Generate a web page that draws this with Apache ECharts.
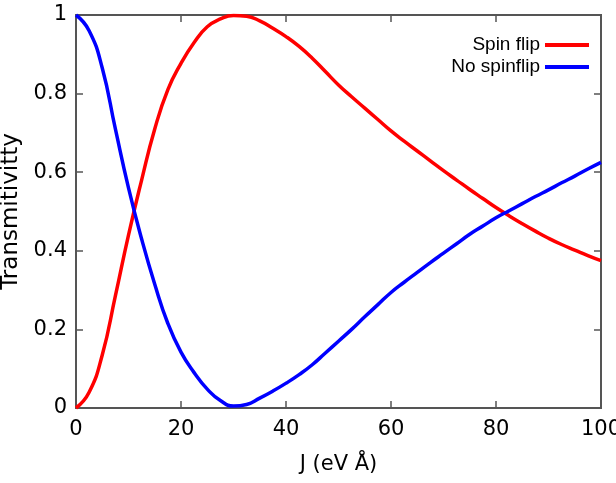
<!DOCTYPE html>
<html>
<head>
<meta charset="utf-8">
<script src="https://cdn.jsdelivr.net/npm/echarts@6/dist/echarts.min.js"></script>
<style>html,body{margin:0;padding:0;background:#fff}#c{width:616px;height:483px}</style>
</head>
<body>
<div id="c"></div>
<script>
const J = [0, 2.5, 5, 7.5, 10, 12.5, 15, 17.5, 20, 22.5, 25, 27.5, 30, 32.5, 35, 37.5, 40, 42.5, 45, 47.5, 50,
           52.5, 55, 57.5, 60, 62.5, 65, 67.5, 70, 72.5, 75, 77.5, 80, 82.5, 85, 87.5, 90, 92.5, 95, 97.5, 100];
const spinFlip = [0, 0.04, 0.135, 0.285, 0.44, 0.58, 0.71, 0.81, 0.877, 0.93, 0.97, 0.99, 0.999, 0.997, 0.985, 0.966, 0.945, 0.92, 0.89, 0.856, 0.822,
                  0.792, 0.763, 0.734, 0.705, 0.679, 0.654, 0.629, 0.604, 0.58, 0.556, 0.533, 0.51, 0.489, 0.469, 0.45, 0.432, 0.416, 0.402, 0.388, 0.375];
const noSpinFlip = [1, 0.96, 0.865, 0.71, 0.56, 0.43, 0.315, 0.215, 0.142, 0.09, 0.048, 0.019, 0.005, 0.009, 0.025, 0.043, 0.063, 0.085, 0.11, 0.14, 0.17,
                    0.2, 0.232, 0.263, 0.294, 0.32, 0.345, 0.37, 0.394, 0.418, 0.442, 0.463, 0.484, 0.502, 0.52, 0.538, 0.555, 0.573, 0.59, 0.608, 0.625];
const xTicks = [0, 20, 40, 60, 80, 100];
const yTicks = [0, 0.2, 0.4, 0.6, 0.8, 1];
const seriesNames = ['Spin flip', 'No spinflip'];

const frame = '#555';
const font = 'DejaVu Sans';
function xAx(pos, labels) {
  return {
    type: 'value', position: pos, min: xTicks[0], max: xTicks[xTicks.length - 1], interval: xTicks[1] - xTicks[0],
    axisLine: { show: true, onZero: false, lineStyle: { color: frame, width: 2 } },
    axisTick: { show: true, inside: true, length: 7, lineStyle: { color: frame, width: 1.5 } },
    axisLabel: { show: labels, color: '#000', fontSize: 21, fontFamily: font, margin: 11 },
    splitLine: { show: false },
    name: labels ? 'J (eV Å)' : '', nameLocation: 'middle', nameGap: 46,
    nameTextStyle: { color: '#000', fontSize: 21, fontFamily: font }
  };
}
function yAx(pos, labels) {
  return {
    type: 'value', position: pos, min: yTicks[0], max: yTicks[yTicks.length - 1], interval: yTicks[1] - yTicks[0],
    axisLine: { show: true, onZero: false, lineStyle: { color: frame, width: 2 } },
    axisTick: { show: true, inside: true, length: 7, lineStyle: { color: frame, width: 1.5 } },
    axisLabel: { show: labels, color: '#000', fontSize: 21, fontFamily: font, margin: 9 },
    splitLine: { show: false },
    name: labels ? 'Transmitivitty' : '', nameLocation: 'middle', nameGap: 46,
    nameTextStyle: { color: '#000', fontSize: 23, fontFamily: font }
  };
}
const chart = echarts.init(document.getElementById('c'), null, { renderer: 'canvas' });
chart.setOption({
  animation: false,
  backgroundColor: '#fff',
  grid: { left: 76, right: 15, top: 15, bottom: 75, containLabel: false, outerBoundsMode: 'none',
          show: true, borderColor: frame, borderWidth: 2, backgroundColor: 'transparent' },
  xAxis: [xAx('bottom', true), xAx('top', false)],
  yAxis: [yAx('left', true), yAx('right', false)],
  legend: {
    orient: 'vertical', right: 22, top: 29, align: 'right', padding: 5,
    icon: 'rect', itemWidth: 44, itemHeight: 4, itemGap: 0,
    textStyle: { fontFamily: 'Liberation Sans', fontSize: 19, color: '#000', lineHeight: 22 },
    data: seriesNames
  },
  series: [
    { name: seriesNames[0], type: 'line', smooth: 0.5, showSymbol: false, xAxisIndex: 0, yAxisIndex: 0,
      lineStyle: { color: '#ff0000', width: 3.5 }, itemStyle: { color: '#ff0000' },
      data: J.map((j, i) => [j, spinFlip[i]]) },
    { name: seriesNames[1], type: 'line', smooth: 0.5, showSymbol: false, xAxisIndex: 0, yAxisIndex: 0,
      lineStyle: { color: '#0000ff', width: 3.5 }, itemStyle: { color: '#0000ff' },
      data: J.map((j, i) => [j, noSpinFlip[i]]) }
  ]
});
</script>
</body>
</html>
